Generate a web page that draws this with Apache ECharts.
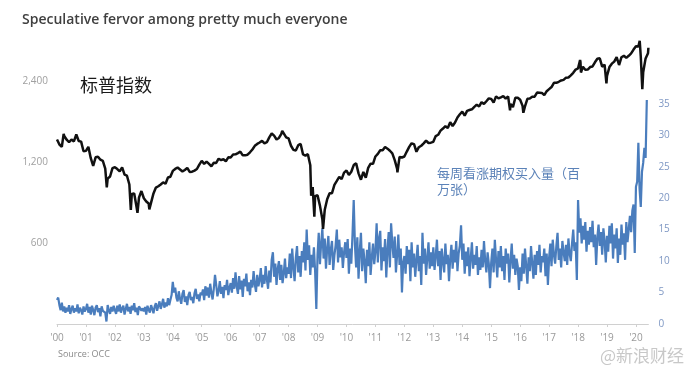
<!DOCTYPE html>
<html><head><meta charset="utf-8">
<script src="https://cdn.jsdelivr.net/npm/echarts@6/dist/echarts.min.js"></script>
<style>html,body{margin:0;padding:0;background:#fff}#c{width:690px;height:367px}</style>
</head><body><div id="c"></div><script>
// S&P 500 monthly closes (log left axis)
const spx2000 = [1394,1366,1499,1452,1421,1455,1431,1518,1437,1429,1315,1320];
const spx2001 = [1366,1240,1160,1249,1256,1224,1211,1134,1041,1060,1139,1148];
const spx2002 = [1130,1107,1147,1077,1067,990,912,916,815,886,936,880];
const spx2003 = [856,841,848,917,964,975,990,1008,996,1051,1058,1112];
const spx2004 = [1131,1145,1126,1107,1121,1141,1102,1104,1115,1130,1174,1212];
const spx2005 = [1181,1204,1181,1157,1192,1191,1234,1220,1229,1207,1249,1248];
const spx2006 = [1280,1281,1295,1311,1270,1270,1277,1304,1336,1378,1401,1418];
const spx2007 = [1438,1407,1421,1482,1531,1503,1455,1474,1527,1549,1481,1468];
const spx2008 = [1379,1331,1323,1386,1400,1280,1267,1283,1166,969,896,903];
const spx2009 = [826,735,798,873,919,919,987,1021,1057,1036,1096,1115];
const spx2010 = [1074,1104,1169,1187,1089,1031,1102,1049,1141,1183,1181,1258];
const spx2011 = [1286,1327,1326,1364,1345,1321,1292,1219,1131,1253,1247,1258];
const spx2012 = [1312,1366,1408,1398,1310,1362,1379,1407,1441,1412,1416,1426];
const spx2013 = [1498,1515,1569,1598,1631,1606,1686,1633,1682,1757,1806,1848];
const spx2014 = [1783,1859,1872,1884,1924,1960,1931,2003,1972,2018,2068,2059];
const spx2015 = [1995,2105,2068,2086,2107,2063,2104,1972,1920,2079,2080,2044];
const spx2016 = [1940,1932,2060,2065,2097,2099,2174,2171,2168,2126,2199,2239];
const spx2017 = [2279,2364,2363,2384,2412,2423,2470,2472,2519,2575,2648,2674];
const spx2018 = [2824,2714,2641,2648,2705,2718,2816,2902,2914,2712,2760,2507];
const spx2019 = [2704,2784,2834,2946,2752,2942,2980,2926,2977,3038,3141,3231];
const spx2020 = [3226,2954,2585,2912,3044];
// intra-month extremes [year fraction, level]
const spxExtremes = [[2000.0,1455],[2000.23,1527],[2000.7,1520],[2001.72,966],[2002.55,797],[2002.78,777],[2003.19,800],[2007.78,1565],[2008.78,899],[2008.89,752],[2009.19,677],[2010.5,1022],[2011.76,1099],[2015.65,1867],[2016.11,1829],[2018.07,2873],[2018.1,2581],[2018.72,2931],[2018.98,2351],[2020.13,3386],[2020.22,2237],[2020.43,3190]];

// Weekly call buying (millions), sampled twice a month
const call2000 = [3.8,4.2,3.0,2.2,3.4,2.0,2.8,1.8,2.6,2.0,3.0,1.6,2.4,2.9,1.8,2.5,2.0,3.1,1.7,2.6,2.2,1.5,2.8,2.0];
const call2001 = [2.4,3.2,1.8,2.7,1.5,2.9,2.2,1.4,2.6,3.0,1.9,2.5,1.2,2.8,2.1,2.4,1.8,0.4,3.0,2.2,1.6,2.7,2.0,2.9];
const call2002 = [2.2,1.6,2.9,2.0,3.1,1.8,2.5,2.9,1.5,2.4,3.2,2.0,2.7,1.6,2.9,2.2,3.3,1.9,2.6,1.4,2.8,3.0,2.1,2.5];
const call2003 = [2.0,2.7,1.5,2.9,2.3,1.8,3.0,2.4,1.7,2.8,3.3,2.1,2.9,3.6,2.4,3.1,4.0,2.6,3.4,2.8,4.1,3.0,3.8,4.6];
const call2004 = [6.7,5.0,5.8,4.2,3.6,5.2,4.0,3.2,4.8,5.4,3.5,4.4,3.0,4.6,5.1,3.8,4.3,3.3,4.9,5.6,4.0,4.7,3.6,5.0];
const call2005 = [4.6,5.5,3.8,6.0,4.5,5.8,4.2,6.4,5.0,3.9,5.6,7.8,6.2,4.4,5.3,6.8,4.8,5.9,4.1,6.2,5.4,7.0,4.6,5.8];
const call2006 = [6.5,5.0,7.3,5.6,8.2,6.0,4.8,7.6,5.5,6.9,4.3,7.2,6.0,8.0,5.2,6.6,4.6,7.0,5.8,8.4,6.3,5.1,7.8,6.0];
const call2007 = [7.0,8.9,5.8,7.8,6.4,9.2,7.1,5.6,8.5,6.6,10.2,11.4,7.5,9.6,6.2,8.8,10.0,7.0,9.4,6.5,8.0,10.4,7.3,9.0];
const call2008 = [8.0,11.2,7.3,12.0,9.0,6.8,10.5,12.4,8.2,10.8,7.5,11.6,9.8,13.0,8.5,15.0,10.2,12.5,7.8,11.0,9.0,12.2,8.4,2.4];
const call2009 = [11.0,14.5,9.5,12.8,15.2,10.4,13.6,8.8,12.0,14.0,9.4,11.8,13.2,8.6,10.9,12.5,15.0,9.8,13.4,10.6,12.2,8.9,11.4,13.0];
const call2010 = [10.5,13.5,8.0,12.0,9.6,14.2,19.7,12.6,9.0,13.8,7.2,11.5,14.5,8.4,12.0,10.0,6.5,11.8,9.2,13.0,7.8,10.6,12.8,9.5];
const call2011 = [11.5,16.0,9.8,13.6,14.8,8.5,12.2,10.0,13.5,7.4,11.8,14.6,9.0,16.0,12.8,10.5,13.9,8.2,11.0,14.2,9.4,12.0,5.0,9.8];
const call2012 = [10.8,8.0,12.4,9.5,11.8,6.8,13.0,9.0,11.2,7.5,10.2,12.6,8.4,10.8,6.2,14.5,9.6,12.0,7.8,10.5,13.0,8.8,11.4,9.2];
const call2013 = [12.2,8.6,10.8,13.4,9.2,11.6,7.0,12.0,10.0,8.2,12.8,9.5,11.0,6.8,10.4,12.6,8.8,11.8,9.8,13.2,8.4,11.2,12.5,15.7];
const call2014 = [10.2,12.8,8.0,11.5,9.2,12.2,7.6,10.4,13.0,8.8,11.0,9.4,12.4,7.8,10.6,8.6,11.8,9.0,13.2,10.0,8.2,11.4,9.6,5.7];
const call2015 = [9.8,12.0,8.2,13.4,10.2,7.4,11.6,9.0,12.4,8.4,10.8,7.0,12.0,9.6,11.2,6.6,10.0,12.8,8.8,11.0,7.8,10.4,9.2,5.4];
const call2016 = [9.0,6.8,11.2,8.0,12.0,9.2,6.4,10.6,8.4,12.4,9.6,7.2,11.0,7.8,11.6,9.4,12.6,8.2,10.8,9.8,12.0,7.6,11.2,6.2];
const call2017 = [10.5,12.8,9.2,13.4,11.0,9.6,12.4,14.5,10.2,12.0,9.0,13.2,11.4,10.0,12.6,9.4,13.6,11.2,10.0,12.8,15.0,11.6,13.0,7.0];
const call2018 = [19.7,14.5,16.8,12.8,15.6,13.4,16.2,11.5,14.8,12.6,15.4,13.0,16.4,12.2,14.2,9.4,13.8,15.8,12.4,14.6,11.0,15.2,13.2,9.8];
const call2019 = [14.0,11.5,15.6,12.8,16.0,10.4,14.2,12.0,15.2,9.7,13.6,11.0,15.8,12.6,14.4,10.2,16.2,13.0,15.0,17.2,14.6,18.0,19.0,11.3];
const call2020 = [21.8,22.6,28.8,21.5,18.6,24.2,25.6,28.0,26.4,35.6];

const yearLabels = ["'00","'01","'02","'03","'04","'05","'06","'07","'08","'09","'10","'11","'12","'13","'14","'15","'16","'17","'18","'19","'20"];
const spxTicks = [600, 1200, 2400];
const callTicks = [0, 5, 10, 15, 20, 25, 30, 35];

const spxYears = [spx2000,spx2001,spx2002,spx2003,spx2004,spx2005,spx2006,spx2007,spx2008,spx2009,spx2010,spx2011,spx2012,spx2013,spx2014,spx2015,spx2016,spx2017,spx2018,spx2019,spx2020];
const callYears = [call2000,call2001,call2002,call2003,call2004,call2005,call2006,call2007,call2008,call2009,call2010,call2011,call2012,call2013,call2014,call2015,call2016,call2017,call2018,call2019,call2020];

const spxData = [];
spxYears.forEach((arr, yi) => arr.forEach((v, m) => spxData.push([2000 + yi + (m + 1) / 12, v])));
spxExtremes.forEach(p => spxData.push(p));
spxData.sort((a, b) => a[0] - b[0]);

const callData = [];
callYears.forEach((arr, yi) => arr.forEach((v, i) => callData.push([2000 + yi + i / 24, v])));

const yearValues = yearLabels.map((_, i) => 2000 + i);

const chart = echarts.init(document.getElementById('c'), null, {renderer: 'canvas'});
chart.setOption({
  animation: false,
  backgroundColor: '#fff',
  grid: {left: 57, right: 41.6, top: 0, bottom: 43},
  title: [
    {text: 'Speculative fervor among pretty much everyone', left: 17, top: 8,
     textStyle: {fontFamily: 'Open Sans', fontWeight: 600, fontSize: 14, color: '#404040'}},
    {text: '标普指数', left: 75, top: 71,
     textStyle: {fontFamily: 'Noto Sans CJK SC', fontWeight: 'normal', fontSize: 18, color: '#1a1a1a'}},
    {text: '每周看涨期权买入量（百\n万张）', left: 432, top: 160,
     textStyle: {fontFamily: 'Noto Sans CJK SC', fontWeight: 'normal', fontSize: 13, lineHeight: 16, color: '#5b82b8'}},
    {text: 'Source: OCC', left: 53, top: 345,
     textStyle: {fontFamily: 'Open Sans', fontWeight: 'normal', fontSize: 9, color: '#8a8a8a'}},
    {text: '@新浪财经', left: 595, top: 342,
     textStyle: {fontFamily: 'Noto Sans CJK SC', fontWeight: 'normal', fontSize: 17, color: '#c8c8c8'}}
  ],
  xAxis: {
    type: 'value', min: 2000, max: 2020.43,
    axisLine: {show: true, lineStyle: {color: '#d0d0d0', width: 1}},
    axisTick: {show: true, length: 3, lineStyle: {color: '#d0d0d0'}, customValues: yearValues},
    axisLabel: {color: '#9a9a9a', fontSize: 10, fontFamily: 'Open Sans', margin: 9,
      customValues: yearValues,
      formatter: v => yearLabels[Math.round(v) - 2000] || ''},
    splitLine: {show: false}
  },
  yAxis: [
    {type: 'log', logBase: 2, min: 300, max: 4800, position: 'left',
     axisLine: {show: false}, axisTick: {show: false}, splitLine: {show: false},
     axisLabel: {color: '#a0a0a0', fontSize: 10, fontFamily: 'Open Sans', margin: 9,
       customValues: spxTicks, formatter: v => Number(v).toLocaleString('en-US')}},
    {type: 'value', min: 0, max: 51.5, position: 'right',
     axisLine: {show: false}, axisTick: {show: false}, splitLine: {show: false},
     axisLabel: {color: '#7f98c4', fontSize: 10, fontFamily: 'Open Sans', margin: 10,
       customValues: callTicks}}
  ],
  series: [
    {type: 'line', name: 'calls', yAxisIndex: 1, data: callData, showSymbol: false,
     lineStyle: {color: '#4a7dbd', width: 2.2}, itemStyle: {color: '#4a7dbd'}, z: 2},
    {type: 'line', name: 'spx', yAxisIndex: 0, data: spxData, showSymbol: false,
     lineStyle: {color: '#111', width: 2.5}, itemStyle: {color: '#111'}, z: 3}
  ]
});
</script></body></html>
